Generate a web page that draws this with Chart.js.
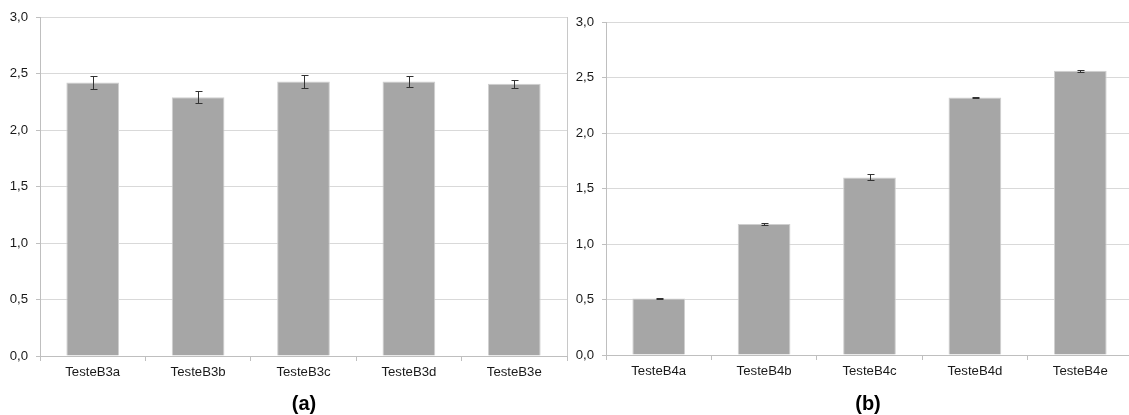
<!DOCTYPE html>
<html>
<head>
<meta charset="utf-8">
<script src="https://cdn.jsdelivr.net/npm/chart.js@4.4.1/dist/chart.umd.min.js"></script>
<style>
  html, body { margin: 0; padding: 0; background: #ffffff; width: 1129px; height: 415px; overflow: hidden; position: relative; }
  canvas { position: absolute; top: 0; }
  #cA { left: 0px; }
  #cB { left: 566px; }
  .lbl { position: absolute; top: 403px; transform: translate(-50%, -50%); font-family: "Liberation Sans", Arial, sans-serif; font-weight: bold; font-size: 20px; color: #000; white-space: nowrap; }
</style>
</head>
<body>
<canvas id="cA" width="575" height="415" style="width:575px;height:415px"></canvas>
<canvas id="cB" width="575" height="415" style="width:575px;height:415px"></canvas>
<div class="lbl" style="left:304px">(a)</div>
<div class="lbl" style="left:868px">(b)</div>
<script>
const categoriesA = ['TesteB3a', 'TesteB3b', 'TesteB3c', 'TesteB3d', 'TesteB3e'];
const valuesA = [2.42, 2.29, 2.43, 2.43, 2.41];
const errorsA = [0.055, 0.055, 0.055, 0.05, 0.035];

const categoriesB = ['TesteB4a', 'TesteB4b', 'TesteB4c', 'TesteB4d', 'TesteB4e'];
const valuesB = [0.51, 1.18, 1.60, 2.32, 2.56];
const errorsB = [0.004, 0.005, 0.027, 0.008, 0.01];

const yMin = 0, yMax = 3, yStep = 0.5;
const panelLabels = ['(a)', '(b)'];

const FONT = '"Liberation Sans", Arial, sans-serif';

const errorBarPlugin = {
  id: 'errorBars',
  afterDatasetsDraw(chart) {
    const errs = chart.options.plugins.errorBars.errors;
    const meta = chart.getDatasetMeta(0);
    const ys = chart.scales.y;
    const vals = chart.data.datasets[0].data;
    const ctx = chart.ctx;
    ctx.save();
    ctx.strokeStyle = '#333333';
    ctx.lineWidth = 1;
    meta.data.forEach((bar, i) => {
      const x = Math.round(bar.x) + 0.5;
      const yt = Math.round(ys.getPixelForValue(vals[i] + errs[i])) + 0.5;
      const yb = Math.round(ys.getPixelForValue(vals[i] - errs[i])) + 0.5;
      ctx.beginPath();
      ctx.moveTo(x, yt); ctx.lineTo(x, yb);
      ctx.moveTo(x - 3, yt); ctx.lineTo(x + 4, yt);
      ctx.moveTo(x - 3, yb); ctx.lineTo(x + 4, yb);
      ctx.stroke();
    });
    ctx.restore();
  }
};

const rightBorderPlugin = {
  id: 'rightBorder',
  beforeDatasetsDraw(chart) {
    const a = chart.chartArea;
    const ctx = chart.ctx;
    ctx.save();
    ctx.strokeStyle = '#c8c8c8';
    ctx.lineWidth = 1;
    const x = Math.round(a.right) + 0.5;
    ctx.beginPath();
    ctx.moveTo(x, Math.round(a.top));
    ctx.lineTo(x, Math.round(a.bottom));
    ctx.stroke();
    ctx.restore();
  }
};

function makeChart(id, cats, vals, errs, padTop, bottomY) {
  return new Chart(document.getElementById(id), {
    type: 'bar',
    data: {
      labels: cats,
      datasets: [{
        data: vals,
        backgroundColor: '#a6a6a6',
        borderColor: '#cfcfcf',
        borderWidth: 1,
        barPercentage: 0.5,
        categoryPercentage: 1.0
      }]
    },
    options: {
      responsive: false,
      devicePixelRatio: 1,
      animation: false,
      layout: { padding: { top: padTop, right: 8, left: 0, bottom: 0 } },
      plugins: {
        legend: { display: false },
        tooltip: { enabled: false },
        title: { display: false },
        errorBars: { errors: errs }
      },
      scales: {
        x: {
          offset: true,
          grid: { display: true, offset: true, drawOnChartArea: false, drawTicks: true, tickLength: 5, color: '#bfbfbf' },
          border: { display: true, color: '#bfbfbf' },
          ticks: { color: '#1a1a1a', font: { family: FONT, size: 13.2 }, padding: 3, maxRotation: 0 },
          afterFit(scale) { scale.height = 415 - bottomY; }
        },
        y: {
          min: yMin, max: yMax,
          grid: { color: '#d9d9d9', tickColor: '#bfbfbf', tickLength: 4, drawTicks: true },
          border: { display: true, color: '#bfbfbf' },
          ticks: {
            stepSize: yStep,
            color: '#1a1a1a',
            font: { family: FONT, size: 13.2 },
            padding: 8,
            callback: v => Number(v).toFixed(1).replace('.', ',')
          },
          afterFit(scale) { scale.width = 40; }
        }
      }
    },
    plugins: [errorBarPlugin, rightBorderPlugin]
  });
}

makeChart('cA', categoriesA, valuesA, errorsA, 17, 356);
makeChart('cB', categoriesB, valuesB, errorsB, 22, 355);
</script>
</body>
</html>
